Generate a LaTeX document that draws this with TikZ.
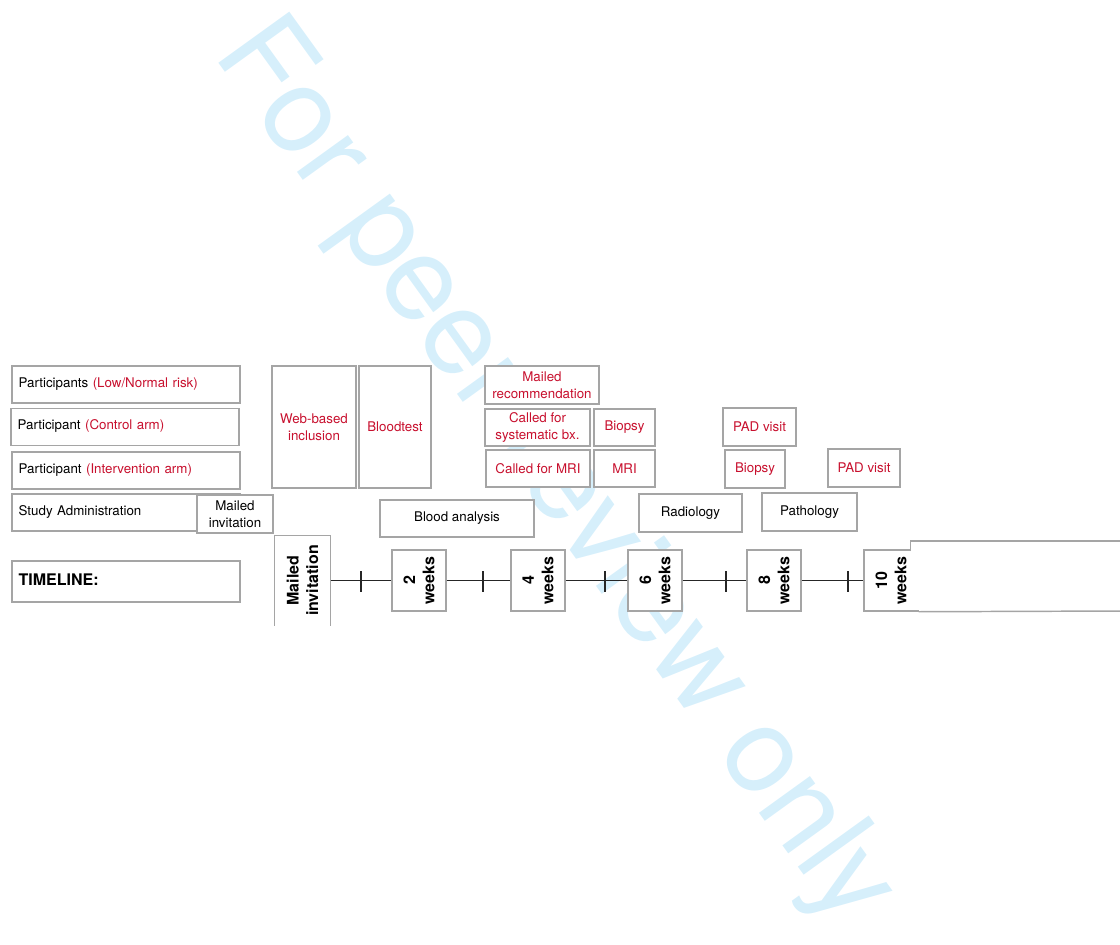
\documentclass[tikz,border=0pt]{standalone}
\usepackage{fontspec}
\setmainfont{TeX Gyre Heros}
\definecolor{riskred}{RGB}{200,16,46}
\definecolor{framegray}{RGB}{165,165,165}
\definecolor{wmblue}{RGB}{214,239,251}

\begin{document}
\begin{tikzpicture}[
  x=0.75pt,y=-0.75pt,
  frame/.style={draw=framegray,line width=1.1pt},
  row/.style={frame,fill=white,rectangle,minimum width=171pt,minimum height=27.75pt,inner xsep=5pt,text width=161pt,text depth=0.3em,align=left,font=\fontsize{10}{12.5}\selectfont},
  evt/.style={frame,fill=white,rectangle,minimum height=28.5pt,inner sep=1pt,align=center,font=\fontsize{10}{12.5}\selectfont},
  redevt/.style={evt,text=riskred},
  wk/.style={frame,fill=white,rectangle,rotate=90,minimum width=45.75pt,minimum height=40.5pt,inner sep=1pt,align=center,font=\bfseries\fontsize{12}{14.5}\selectfont},
  tline/.style={line width=0.8pt,draw=black!85},
  tick/.style={line width=0.8pt,draw=black!85},
  watermark/.style={text=wmblue,font=\fontsize{90}{100}\selectfont,inner sep=0pt}
]
\useasboundingbox (0,0) rectangle (1120,945);

% Watermark (behind everything)
\node[watermark,anchor=base west,rotate=-54.2] (wmark) at (212,54) {For peer review only};

% Row labels (left)
\node[row] (rowlow) at (126,384.5) {Participants \textcolor{riskred}{(Low/Normal risk)}};
\node[row] (rowctrl) at (125,427) {Participant \textcolor{riskred}{(Control arm)}};
\node[row] (rowint) at (126,470.5) {Participant \textcolor{riskred}{(Intervention arm)}};
\node[row] (rowadm) at (126,512.5) {Study Administration};
\node[row,minimum height=30.75pt,font=\bfseries\fontsize{12}{14}\selectfont] (rowtime) at (126,581.5) {TIMELINE:};

% Participant events
\node[redevt,minimum width=63pt,minimum height=91.5pt] (webincl) at (314,427) {Web-based\\inclusion};
\node[redevt,minimum width=54pt,minimum height=91.5pt] (bloodtest) at (395,427) {Bloodtest};
\node[redevt,minimum width=85.5pt] (mailrec) at (542,385) {Mailed\\recommendation};
\node[redevt,minimum width=78.75pt,minimum height=27.75pt] (callsys) at (537.5,427.5) {Called for\\systematic bx.};
\node[redevt,minimum width=45.75pt,minimum height=27.75pt] (biopsyctrl) at (624.5,427.5) {Biopsy};
\node[redevt,minimum width=78pt,minimum height=27.75pt] (callmri) at (538,468.5) {Called for MRI};
\node[redevt,minimum width=45.75pt,minimum height=27.75pt] (mri) at (624.5,468.5) {MRI};
\node[redevt,minimum width=54.75pt] (padctrl) at (759.5,427) {PAD visit};
\node[redevt,minimum width=45pt] (biopsyint) at (755,469) {Biopsy};
\node[redevt,minimum width=54pt] (padint) at (864,468) {PAD visit};

% Study administration events
\node[evt,minimum width=57pt] (mailinv) at (235,514) {Mailed\\invitation};
\node[evt,minimum width=115.5pt,minimum height=27.75pt] (bloodana) at (457,518.5) {Blood analysis};
\node[evt,minimum width=77.25pt] (radiology) at (690.5,513) {Radiology};
\node[evt,minimum width=71.25pt] (pathology) at (809.5,512) {Pathology};

% Timeline boxes
\node[wk,draw=none,minimum width=66.75pt,minimum height=41.25pt] (mailtl) at (302.5,580.5) {Mailed\\invitation};
\draw[frame] (mailtl.north west) -- (mailtl.north east) -- (mailtl.south east) -- (mailtl.south west);
\node[wk] (wk2) at (419,580.5) {2\\weeks};
\node[wk] (wk4) at (538,580.5) {4\\weeks};
\node[wk] (wk6) at (655,580.5) {6\\weeks};
\node[wk] (wk8) at (774,580.5) {8\\weeks};
\node[wk] (wk10) at (891,580.5) {10\\weeks};

% open box after 10 weeks
\coordinate (tailtop) at (1125,541);
\coordinate (tailbot) at (1125,611);
\fill[white] (911,542) rectangle (1125,610);
\draw[frame] (910.5,551) |- (tailtop);
\draw[frame] (wk10.south west) -- (tailbot);

% Timeline line and ticks
\foreach \a/\b in {mailtl/wk2,wk2/wk4,wk4/wk6,wk6/wk8,wk8/wk10}
  \draw[tline] (\a) -- (\b);
\foreach \tx in {361,483,605,726,848}
  \draw[tick] (\tx,571) -- (\tx,592);

\end{tikzpicture}
\end{document}
